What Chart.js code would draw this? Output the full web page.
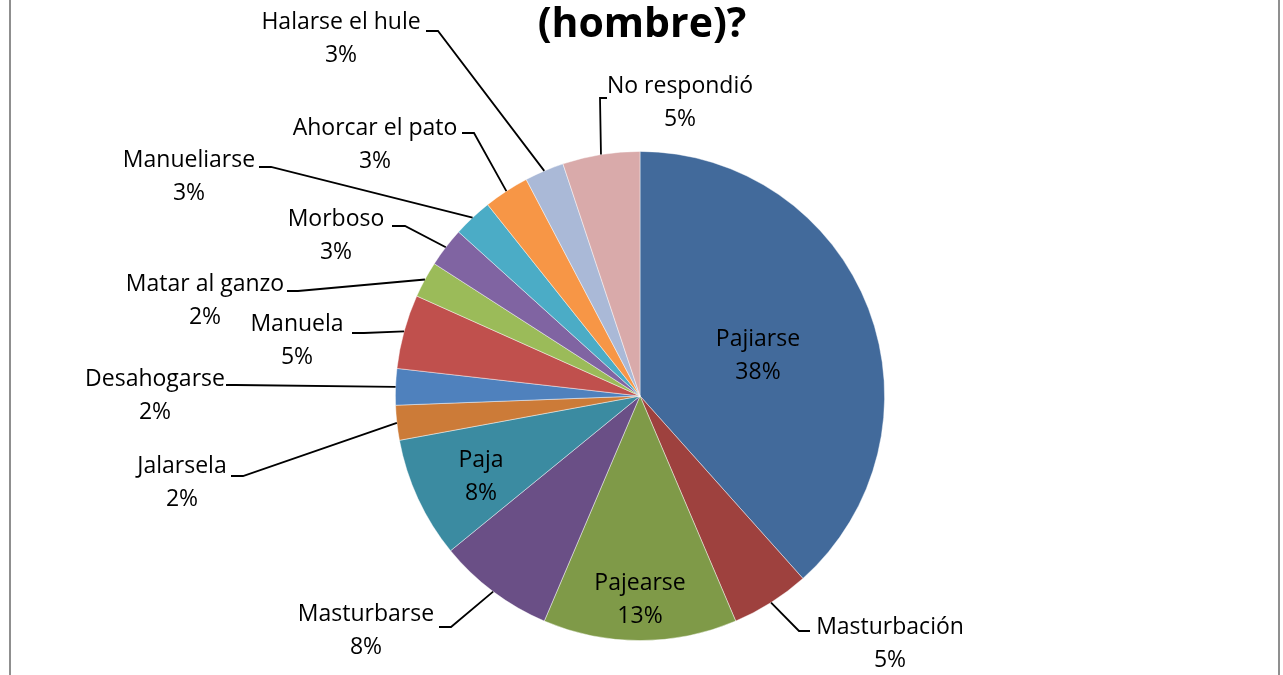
<!DOCTYPE html>
<html>
<head>
<meta charset="utf-8">
<script src="https://cdn.jsdelivr.net/npm/chart.js@4/dist/chart.umd.min.js"></script>
<style>
  html, body { margin: 0; padding: 0; background: #ffffff; }
  #wrap { width: 1283px; height: 675px; position: relative; }
</style>
</head>
<body>
<div id="wrap"><canvas id="pie" width="1283" height="675"></canvas></div>
<script>
// Datos
const categories = ['Pajiarse', 'Masturbación', 'Pajearse', 'Masturbarse', 'Paja', 'Jalarsela',
    'Desahogarse', 'Manuela', 'Matar al ganzo', 'Morboso', 'Manueliarse', 'Ahorcar el pato',
    'Halarse el hule', 'No respondió'];
const values = [38.4, 5.2, 12.8, 7.7, 8.0, 2.3, 2.4, 4.9, 2.4, 2.6, 2.6, 3.0, 2.6, 5.1];
const colors = ['#426A9B', '#9E413E', '#7F9A48', '#6A4F86', '#3B8BA1', '#CC7B38', '#4F81BD',
    '#C0504D', '#9BBB59', '#8064A2', '#4BACC6', '#F79646', '#AAB9D7', '#D9AAAA'];
const titleText = '(hombre)?';

// Posición de las etiquetas: [textoX, textoY, inicioLinea, codo, lineaY] o [x, y] si va dentro
const labelLayout = [
    [758, 339],
    [890, 627, 810, 799, 631],
    [640, 583],
    [366, 614, 439, 451, 627],
    [481, 460],
    [182, 466, 231, 243, 476],
    [155, 379, 226, 236, 385],
    [297, 324, 352, 364, 333],
    [205, 284, 287, 298, 291],
    [336, 219, 392, 405, 226],
    [189, 160, 259, 271, 167],
    [375, 128, 462, 474, 133],
    [341, 22, 426, 438, 31],
    [680, 86, 607, 600, 98]
];

const labelFont = '23px "Open Sans", "Noto Sans", sans-serif';

const decorPlugin = {
    id: 'decor',
    afterDatasetsDraw(chart) {
        const ctx = chart.ctx;
        const meta = chart.getDatasetMeta(0);
        const total = values.reduce((a, b) => a + b, 0);
        ctx.save();

        // marco gris
        ctx.strokeStyle = '#8f8f8f';
        ctx.lineWidth = 2;
        ctx.beginPath();
        ctx.moveTo(10, 0); ctx.lineTo(10, 675);
        ctx.moveTo(1279, 0); ctx.lineTo(1279, 675);
        ctx.stroke();

        // título (cortado arriba)
        ctx.fillStyle = '#000000';
        ctx.font = 'bold 41px "Open Sans", "Noto Sans", sans-serif';
        ctx.textAlign = 'center';
        ctx.textBaseline = 'middle';
        ctx.fillText(titleText, 642, 25);

        // etiquetas
        ctx.font = labelFont;
        meta.data.forEach((arc, i) => {
            const lay = labelLayout[i];
            const pct = Math.round(values[i] / total * 100) + '%';
            ctx.fillStyle = '#000000';
            ctx.fillText(categories[i], lay[0], lay[1]);
            ctx.fillText(pct, lay[0], lay[1] + 33);
            if (lay.length > 2) {
                const p = arc.getProps(['x', 'y', 'startAngle', 'endAngle', 'outerRadius'], true);
                const mid = (p.startAngle + p.endAngle) / 2;
                const ex = p.x + Math.cos(mid) * p.outerRadius;
                const ey = p.y + Math.sin(mid) * p.outerRadius;
                ctx.strokeStyle = '#000000';
                ctx.lineWidth = 1.8;
                ctx.beginPath();
                ctx.moveTo(lay[2], lay[4]);
                ctx.lineTo(lay[3], lay[4]);
                ctx.lineTo(ex, ey);
                ctx.stroke();
            }
        });
        ctx.restore();
    }
};

new Chart(document.getElementById('pie'), {
    type: 'pie',
    data: {
        labels: categories,
        datasets: [{
            data: values,
            backgroundColor: colors,
            borderColor: 'rgba(255,255,255,0.55)',
            borderWidth: 0.8
        }]
    },
    options: {
        responsive: false,
        animation: false,
        layout: { padding: { left: 395, right: 398, top: 151, bottom: 34 } },
        plugins: {
            legend: { display: false },
            tooltip: { enabled: false },
            title: { display: false }
        }
    },
    plugins: [decorPlugin]
});
</script>
</body>
</html>
